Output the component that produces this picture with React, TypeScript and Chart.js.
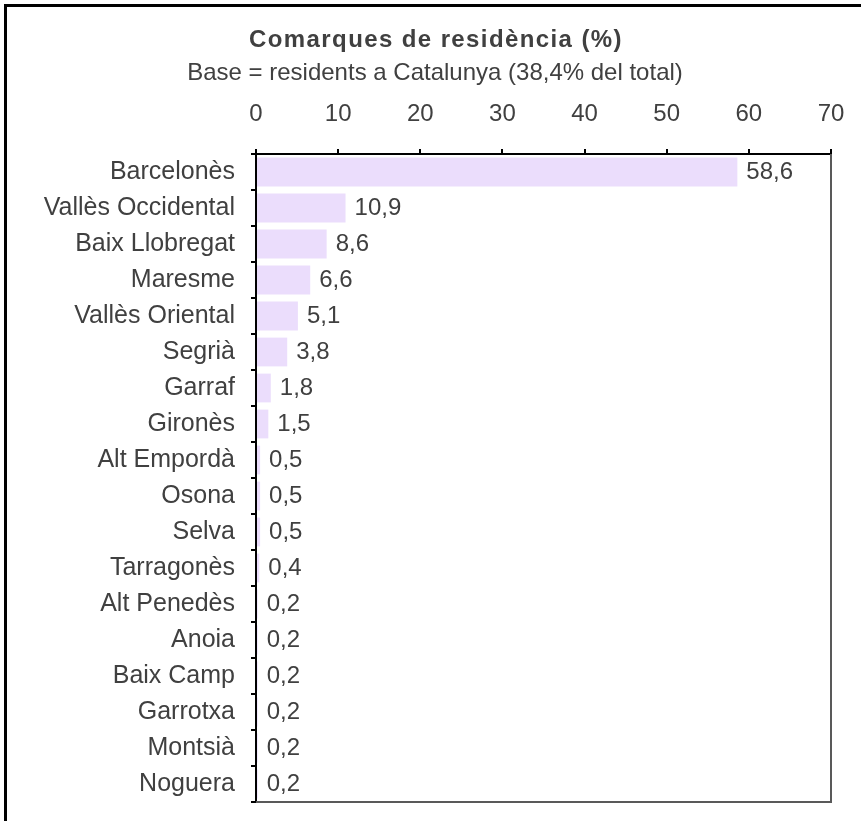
import React, { useEffect, useRef } from "react";
import { Chart, registerables } from "chart.js";

Chart.register(...registerables);

const categories = [
  "Barcelonès",
  "Vallès Occidental",
  "Baix Llobregat",
  "Maresme",
  "Vallès Oriental",
  "Segrià",
  "Garraf",
  "Gironès",
  "Alt Empordà",
  "Osona",
  "Selva",
  "Tarragonès",
  "Alt Penedès",
  "Anoia",
  "Baix Camp",
  "Garrotxa",
  "Montsià",
  "Noguera",
];
const values = [58.6, 10.9, 8.6, 6.6, 5.1, 3.8, 1.8, 1.5, 0.5, 0.5, 0.5, 0.4, 0.2, 0.2, 0.2, 0.2, 0.2, 0.2];
const titleText = "Comarques de residència (%)";
const subtitleText = "Base = residents a Catalunya (38,4% del total)";

const FONT = "'Liberation Sans', Arial, sans-serif";
const TEXT = "#404040";

const decorPlugin = {
  id: "decor",
  beforeDraw(chart: any) {
    const { ctx, width, height } = chart;
    ctx.save();
    ctx.fillStyle = "#ffffff";
    ctx.fillRect(0, 0, width, height);
    ctx.fillStyle = "#000000";
    ctx.fillRect(4, 4, 3, height);
    ctx.fillRect(4, 4, width, 3);
    ctx.fillStyle = TEXT;
    ctx.textAlign = "center";
    ctx.textBaseline = "middle";
    ctx.font = `bold 24px ${FONT}`;
    try {
      (ctx as any).letterSpacing = "1.4px";
    } catch (e) {}
    ctx.fillText(titleText, 436, 40);
    try {
      (ctx as any).letterSpacing = "0px";
    } catch (e) {}
    ctx.font = `24px ${FONT}`;
    ctx.fillText(subtitleText, 435, 73);
    ctx.restore();
  },
  afterDatasetsDraw(chart: any) {
    const { ctx, chartArea } = chart;
    ctx.save();
    ctx.strokeStyle = "#595959";
    ctx.lineWidth = 2;
    ctx.beginPath();
    ctx.moveTo(chartArea.left, chartArea.bottom);
    ctx.lineTo(chartArea.right, chartArea.bottom);
    ctx.lineTo(chartArea.right, chartArea.top);
    ctx.stroke();
    const meta = chart.getDatasetMeta(0);
    ctx.fillStyle = TEXT;
    ctx.font = `24px ${FONT}`;
    ctx.textAlign = "left";
    ctx.textBaseline = "middle";
    meta.data.forEach((bar: any, i: number) => {
      const v = values[i];
      ctx.fillText(v.toFixed(1).replace(".", ","), bar.x + 9, bar.y);
    });
    ctx.restore();
  },
};

export default function App() {
  const ref = useRef<HTMLCanvasElement | null>(null);
  useEffect(() => {
    if (!ref.current) return;
    const chart = new Chart(ref.current, {
      type: "bar",
      data: {
        labels: categories,
        datasets: [
          {
            data: values,
            backgroundColor: "#EBDDFC",
            borderWidth: 0,
            barPercentage: 0.8,
            categoryPercentage: 1,
          },
        ],
      },
      options: {
        indexAxis: "y",
        animation: false,
        responsive: false,
        maintainAspectRatio: false,
        layout: { padding: { left: 10, right: 30, top: 0, bottom: 19 } },
        plugins: {
          legend: { display: false },
          title: { display: false },
          tooltip: { enabled: false },
        },
        scales: {
          x: {
            position: "top",
            min: 0,
            max: 70,
            afterFit(scale: any) {
              scale.height = 154;
              scale.paddingLeft = 0;
              scale.paddingRight = 0;
            },
            ticks: {
              stepSize: 10,
              color: TEXT,
              font: { family: FONT, size: 24 },
              padding: 20,
            },
            grid: {
              drawOnChartArea: false,
              drawTicks: true,
              tickLength: 5,
              color: "#000000",
              lineWidth: 2,
            },
            border: { display: true, color: "#000000", width: 2 },
          },
          y: {
            afterFit(scale: any) {
              scale.width = 246;
              scale.paddingTop = 0;
              scale.paddingBottom = 0;
            },
            ticks: {
              color: TEXT,
              font: { family: FONT, size: 25 },
              padding: 16,
            },
            grid: {
              drawOnChartArea: false,
              drawTicks: true,
              tickLength: 5,
              offset: true,
              color: "#000000",
              lineWidth: 2,
            },
            border: { display: true, color: "#000000", width: 2 },
          },
        },
      },
      plugins: [decorPlugin],
    });
    return () => chart.destroy();
  }, []);
  return (
    <div style={{ position: "fixed", left: 0, top: 0, width: 861, height: 821, overflow: "hidden", background: "#fff" }}>
      <canvas ref={ref} width={861} height={821} style={{ display: "block", width: 861, height: 821 }} />
    </div>
  );
}
